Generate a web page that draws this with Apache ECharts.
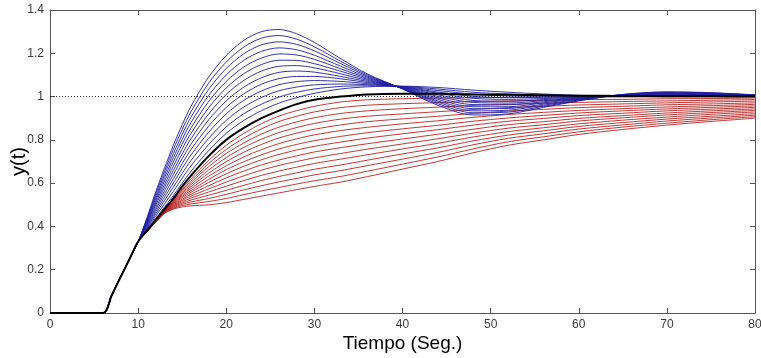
<!DOCTYPE html>
<html>
<head>
<meta charset="utf-8">
<script src="https://cdn.jsdelivr.net/npm/echarts@6/dist/echarts.min.js"></script>
<style>
  html, body { margin: 0; background: #fff; }
  #chart { width: 761px; height: 358px; }
</style>
</head>
<body>
<div id="chart"></div>
<script>
// sample times (s), shared by every curve
const times = [0, 6, 7, 8, 9, 10, 11, 12, 13, 14, 15, 16, 18, 20, 22, 24, 26, 28, 30, 33, 36, 40, 44, 48, 52, 56, 60, 65, 70, 75, 80];

// the thick black response
const blackCurve = [0, 0, .082, .165, .247, .33, .38, .43, .48, .53, .585, .635, .725, .80, .855, .90, .935, .965, .985, 1.0, 1.01, 1.013, 1.013, 1.01, 1.008, 1.006, 1.004, 1.003, 1.002, 1.001, 1.0];

// blue responses: one row per time, columns from highest overshoot down
const blueTable = [
  [0, 0, 0, 0, 0, 0, 0, 0, 0, 0, 0, 0, 0],
  [0, 0, 0, 0, 0, 0, 0, 0, 0, 0, 0, 0, 0],
  [.082, .082, .082, .082, .082, .082, .082, .082, .082, .082, .082, .082, .082],
  [.165, .165, .165, .165, .165, .165, .165, .165, .165, .165, .165, .165, .165],
  [.247, .247, .247, .247, .247, .247, .247, .247, .247, .247, .247, .247, .247],
  [.33, .33, .33, .33, .33, .33, .33, .33, .33, .33, .33, .33, .33],
  [.44, .435, .431, .426, .421, .416, .412, .407, .402, .397, .393, .388, .383],
  [.56, .55, .539, .529, .519, .509, .499, .488, .478, .468, .458, .447, .437],
  [.67, .655, .64, .625, .61, .595, .58, .565, .55, .535, .52, .505, .49],
  [.775, .756, .736, .717, .698, .678, .659, .64, .62, .601, .582, .562, .543],
  [.87, .848, .825, .803, .78, .758, .735, .713, .69, .668, .645, .623, .6],
  [.955, .93, .905, .88, .855, .83, .805, .78, .755, .73, .705, .68, .655],
  [1.09, 1.062, 1.033, 1.005, .977, .948, .92, .892, .863, .835, .807, .778, .75],
  [1.19, 1.16, 1.13, 1.1, 1.07, 1.04, 1.01, .98, .95, .92, .89, .86, .83],
  [1.26, 1.229, 1.198, 1.168, 1.137, 1.106, 1.075, 1.044, 1.013, .983, .952, .921, .89],
  [1.3, 1.27, 1.239, 1.209, 1.178, 1.148, 1.118, 1.087, 1.057, 1.026, .996, .965, .935],
  [1.31, 1.282, 1.253, 1.225, 1.197, 1.168, 1.14, 1.112, 1.083, 1.055, 1.027, .998, .97],
  [1.29, 1.265, 1.241, 1.216, 1.192, 1.167, 1.143, 1.118, 1.093, 1.069, 1.044, 1.02, .995],
  [1.25, 1.23, 1.211, 1.191, 1.172, 1.152, 1.133, 1.113, 1.093, 1.074, 1.054, 1.035, 1.015],
  [1.175, 1.163, 1.152, 1.14, 1.128, 1.117, 1.105, 1.093, 1.082, 1.07, 1.058, 1.047, 1.035],
  [1.105, 1.1, 1.095, 1.09, 1.085, 1.08, 1.075, 1.07, 1.065, 1.06, 1.055, 1.05, 1.045],
  [1.035, 1.036, 1.037, 1.038, 1.039, 1.04, 1.041, 1.043, 1.044, 1.045, 1.046, 1.047, 1.048],
  [.96, .967, .974, .98, .987, .994, 1.001, 1.008, 1.015, 1.021, 1.028, 1.035, 1.042],
  [.915, .925, .934, .944, .953, .963, .973, .982, .992, 1.001, 1.011, 1.02, 1.03],
  [.92, .928, .937, .945, .953, .962, .97, .978, .987, .995, 1.003, 1.012, 1.02],
  [.95, .955, .96, .965, .971, .976, .981, .986, .991, .997, 1.002, 1.007, 1.012],
  [.98, .982, .984, .987, .989, .991, .993, .995, .997, .999, 1.002, 1.004, 1.006],
  [1.01, 1.009, 1.009, 1.008, 1.007, 1.007, 1.006, 1.005, 1.005, 1.004, 1.003, 1.003, 1.002],
  [1.022, 1.02, 1.018, 1.017, 1.015, 1.013, 1.011, 1.009, 1.007, 1.006, 1.004, 1.002, 1.0],
  [1.018, 1.017, 1.015, 1.014, 1.012, 1.011, 1.009, 1.008, 1.006, 1.005, 1.003, 1.002, 1.0],
  [1.008, 1.007, 1.007, 1.006, 1.005, 1.005, 1.004, 1.003, 1.003, 1.002, 1.001, 1.001, 1.0]
];

// red responses: one row per time, columns from just under the black curve down
const redTable = [
  [0, 0, 0, 0, 0, 0, 0, 0, 0, 0, 0, 0, 0, 0, 0],
  [0, 0, 0, 0, 0, 0, 0, 0, 0, 0, 0, 0, 0, 0, 0],
  [.082, .082, .082, .082, .082, .082, .082, .082, .082, .082, .082, .082, .082, .082, .082],
  [.165, .165, .165, .165, .165, .165, .165, .165, .165, .165, .165, .165, .165, .165, .165],
  [.247, .247, .247, .247, .247, .247, .247, .247, .247, .247, .247, .247, .247, .247, .247],
  [.33, .33, .33, .33, .33, .33, .33, .33, .33, .33, .33, .33, .33, .33, .33],
  [.38, .38, .38, .38, .379, .379, .379, .378, .378, .377, .377, .377, .376, .376, .375],
  [.43, .429, .429, .428, .427, .426, .426, .425, .424, .424, .423, .422, .421, .421, .42],
  [.478, .477, .475, .474, .473, .472, .47, .469, .468, .466, .465, .464, .463, .461, .46],
  [.525, .522, .519, .515, .512, .509, .506, .503, .499, .496, .493, .49, .486, .483, .48],
  [.575, .569, .563, .557, .551, .545, .539, .533, .526, .52, .514, .508, .502, .496, .49],
  [.62, .611, .602, .593, .584, .575, .566, .558, .549, .54, .531, .522, .513, .504, .495],
  [.705, .69, .676, .661, .646, .632, .617, .603, .588, .573, .559, .544, .529, .515, .5],
  [.775, .756, .737, .718, .699, .68, .662, .643, .624, .605, .586, .567, .548, .529, .51],
  [.83, .808, .786, .765, .743, .721, .699, .678, .656, .634, .612, .59, .569, .547, .525],
  [.875, .851, .827, .803, .779, .755, .731, .708, .684, .66, .636, .612, .588, .564, .54],
  [.91, .885, .859, .834, .809, .783, .758, .733, .707, .682, .656, .631, .606, .58, .555],
  [.935, .909, .883, .857, .831, .805, .779, .753, .726, .7, .674, .648, .622, .596, .57],
  [.955, .929, .902, .876, .849, .823, .796, .77, .744, .717, .691, .664, .638, .611, .585],
  [.975, .949, .922, .896, .869, .843, .816, .79, .764, .737, .711, .684, .658, .631, .605],
  [.985, .96, .934, .909, .884, .858, .833, .808, .782, .757, .731, .706, .681, .655, .63],
  [.99, .967, .944, .92, .897, .874, .851, .828, .804, .781, .758, .735, .711, .688, .665],
  [.993, .972, .951, .93, .909, .888, .867, .847, .826, .805, .784, .763, .742, .721, .7],
  [.995, .977, .959, .94, .922, .904, .886, .868, .849, .831, .813, .795, .777, .758, .74],
  [.996, .98, .964, .949, .933, .917, .901, .886, .87, .854, .838, .822, .807, .791, .775],
  [.997, .983, .969, .955, .941, .927, .913, .899, .884, .87, .856, .842, .828, .814, .8],
  [.998, .986, .973, .961, .949, .936, .924, .912, .899, .887, .874, .862, .85, .837, .825],
  [.998, .987, .977, .966, .955, .944, .934, .923, .912, .902, .891, .88, .869, .859, .848],
  [.999, .99, .98, .971, .962, .952, .943, .934, .924, .915, .905, .896, .887, .877, .868],
  [.999, .991, .983, .975, .966, .958, .95, .942, .934, .926, .918, .909, .901, .893, .885],
  [1.0, .993, .986, .979, .971, .964, .957, .95, .943, .936, .929, .921, .914, .907, .9]
];

const xTicks = [0, 10, 20, 30, 40, 50, 60, 70, 80];
const yTicks = [0, 0.2, 0.4, 0.6, 0.8, 1, 1.2, 1.4];
const setPoint = 1;

const chart = echarts.init(document.getElementById('chart'), null, { renderer: 'canvas' });

function column(table, k) {
  return times.map((t, r) => [t, table[r][k]]);
}

function curve(data, color, width) {
  return {
    type: 'line',
    data: data,
    symbol: 'none',
    smooth: 0.3,
    silent: true,
    lineStyle: { color: color, width: width },
    z: 3
  };
}

const series = [];
series.push({
  type: 'line',
  data: [[xTicks[0], setPoint], [xTicks[xTicks.length - 1], setPoint]],
  symbol: 'none',
  silent: true,
  lineStyle: { color: '#222', width: 1, type: [1, 2] },
  z: 2
});
for (let k = 0; k < redTable[0].length; k++) {
  series.push(curve(column(redTable, k), '#b82222', 0.9));
}
for (let k = 0; k < blueTable[0].length; k++) {
  series.push(curve(column(blueTable, k), '#1e1ea0', 0.9));
}
series.push(curve(times.map((t, i) => [t, blackCurve[i]]), '#000', 2));

const axisColor = '#555';
const labelStyle = { color: '#3a3a3a', fontSize: 12, fontFamily: 'Liberation Sans, Arial, sans-serif' };

function xAxis(pos, showLabel) {
  return {
    type: 'value',
    position: pos,
    min: xTicks[0],
    max: xTicks[xTicks.length - 1],
    interval: 10,
    axisLine: { show: true, onZero: false, lineStyle: { color: axisColor, width: 1 } },
    axisTick: { show: true, inside: true, length: 5, lineStyle: { color: axisColor } },
    axisLabel: Object.assign({ show: showLabel, margin: 6 }, labelStyle),
    splitLine: { show: false }
  };
}
function yAxis(pos, showLabel) {
  return {
    type: 'value',
    position: pos,
    min: yTicks[0],
    max: yTicks[yTicks.length - 1],
    interval: 0.2,
    axisLine: { show: true, onZero: false, lineStyle: { color: axisColor, width: 1 } },
    axisTick: { show: true, inside: true, length: 5, lineStyle: { color: axisColor } },
    axisLabel: Object.assign({ show: showLabel, margin: 6 }, labelStyle),
    splitLine: { show: false }
  };
}

const bottomX = xAxis('bottom', true);
bottomX.name = 'Tiempo (Seg.)';
bottomX.nameLocation = 'middle';
bottomX.nameGap = 21;
bottomX.nameMoveOverlap = false;
bottomX.nameTextStyle = { color: '#000', fontSize: 19, fontFamily: 'Liberation Sans, Arial, sans-serif' };

const leftY = yAxis('left', true);
leftY.name = 'y(t)';
leftY.nameLocation = 'middle';
leftY.nameGap = 21;
leftY.nameMoveOverlap = false;
leftY.nameTextStyle = { color: '#000', fontSize: 20, fontFamily: 'Liberation Sans, Arial, sans-serif' };

chart.setOption({
  animation: false,
  backgroundColor: '#fff',
  grid: { left: 50, right: 6, top: 10, bottom: 45, containLabel: false, outerBoundsMode: 'none' },
  xAxis: [bottomX, xAxis('top', false)],
  yAxis: [leftY, yAxis('right', false)],
  series: series
});
</script>
</body>
</html>
